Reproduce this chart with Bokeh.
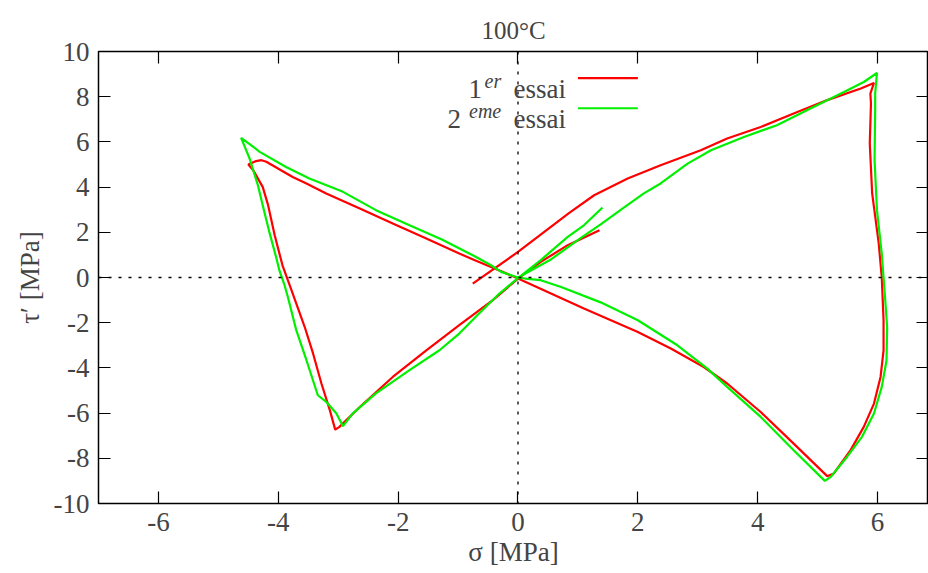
from bokeh.plotting import figure
from bokeh.models import Span, Label, LinearAxis, FixedTicker, Range1d
from bokeh.embed import file_html
from bokeh.resources import INLINE

# ---- data ----
red_x = [-0.755, 0.0, 0.85, 1.27, 1.83, 2.38, 3.05, 3.49, 4.05, 4.6, 5.16, 5.72, 5.94,
         5.88, 5.89, 5.87, 5.91, 6.02, 6.07, 6.1, 6.1, 6.05, 5.94, 5.77, 5.55, 5.27, 5.16,
         4.6, 4.05, 3.49, 3.1, 2.55, 2.0, 1.55, 1.1, 0.55, 0.0, -0.39, -0.73, -0.98, -1.53,
         -2.09, -2.64, -3.2, -3.53, -3.76, -4.2, -4.28, -4.37, -4.5,
         -4.42, -4.26, -4.17, -4.06, -3.93, -3.78, -3.56, -3.42, -3.28, -3.14, -3.05,
         -2.98, -2.64, -2.09, -1.53, -0.98, -0.42, 0.0, 0.38, 0.83, 1.36]
red_y = [-0.27, 1.13, 2.85, 3.64, 4.38, 4.97, 5.63, 6.15, 6.66, 7.26, 7.85, 8.36, 8.61,
         8.14, 7.7, 5.93, 3.72, 1.5, 0.0, -1.89, -3.22, -4.4, -5.58, -6.61, -7.64, -8.67, -8.79,
         -7.35, -5.95, -4.69, -3.96, -3.14, -2.41, -1.89, -1.37, -0.71, -0.04, 0.4, 0.77, 1.06, 1.73,
         2.39, 3.05, 3.72, 4.16, 4.45, 5.12, 5.19, 5.15, 5.0,
         4.75, 4.01, 3.2, 1.87, 0.54, -0.56, -2.18, -3.36, -4.69, -5.87, -6.73,
         -6.61, -5.73, -4.4, -3.22, -2.11, -1.0, -0.05, 0.69, 1.43, 2.09]

green_x = [0.0, 0.55, 1.05, 1.38, 1.72, 2.1, 2.38, 2.83, 3.22, 3.77, 4.32, 4.88, 5.44, 5.77, 5.99,
           5.96, 5.96, 5.95, 5.99, 6.07, 6.12, 6.16, 6.15, 6.07, 5.94, 5.74, 5.49, 5.22, 5.12,
           4.6, 4.05, 3.49, 3.16, 2.66, 2.0, 1.38, 0.72, 0.38, 0.16, 0.0,
           -0.28, -0.45, -0.73, -1.27, -1.81, -2.37, -2.92, -3.48, -3.87, -4.31, -4.45, -4.62,
           -4.48, -4.34, -4.26, -4.15, -4.03, -3.98, -3.9, -3.84, -3.7, -3.53, -3.34, -3.2, -3.03, -2.92,
           -2.76, -2.37, -1.81, -1.31, -0.98, -0.65, -0.31, -0.03, 0.38, 0.83, 1.1, 1.41]
green_y = [0.0, 0.8, 1.75, 2.35, 3.0, 3.72, 4.16, 5.04, 5.63, 6.22, 6.74, 7.48, 8.21, 8.65, 9.05,
           8.14, 7.4, 5.19, 2.98, 1.06, -0.71, -2.18, -3.66, -4.84, -6.02, -7.05, -7.94, -8.82, -9.0,
           -7.64, -6.17, -4.84, -4.03, -3.0, -1.89, -1.1, -0.42, -0.12, -0.06, 0.0,
           0.25, 0.54, 0.95, 1.68, 2.31, 2.98, 3.79, 4.38, 4.89, 5.56, 5.85, 6.18,
           5.27, 4.08, 3.2, 2.02, 0.84, 0.3, -0.3, -0.86, -2.33, -3.66, -5.21, -5.5, -6.02, -6.58,
           -6.02, -5.13, -4.1, -3.22, -2.48, -1.59, -0.71, -0.09, 0.77, 1.8, 2.31, 3.1]

x_ticks = [-6, -4, -2, 0, 2, 4, 6]
x_tick_labels = ["-6", "-4", "-2", "0", "2", "4", "6"]
y_ticks = [-10, -8, -6, -4, -2, 0, 2, 4, 6, 8, 10]
y_tick_labels = ["-10", "-8", "-6", "-4", "-2", "0", "2", "4", "6", "8", "10"]

title_text = "100°C"
x_label = "σ [MPa]"
y_label = "τ′ [MPa]"
series_base = ["1", "2"]
series_sup = ["er", "eme"]
series_word = "essai"
RED = "#ff0000"
GREEN = "#00f000"

FONT = "Liberation Serif"
FS = "27px"

p = figure(width=928, height=570, x_range=Range1d(-7, 6.85), y_range=Range1d(-10, 10),
           output_backend="svg", toolbar_location=None,
           min_border_left=98, min_border_right=0, min_border_top=51, min_border_bottom=67)
p.grid.visible = False
p.outline_line_color = "black"
p.outline_line_width = 1.5
p.background_fill_color = "white"
p.border_fill_color = "white"

p.title.text = title_text
p.title.align = "center"
p.title.text_font = FONT
p.title.text_font_size = "25px"
p.title.text_font_style = "normal"
p.title.offset = 4
p.title.standoff = 16

def style_axis(ax, labels=True):
    ax.major_tick_in = 12
    ax.major_tick_out = 0
    ax.minor_tick_line_color = None
    ax.axis_line_color = None
    ax.major_tick_line_color = "black"
    ax.major_tick_line_width = 1.2
    if labels:
        ax.major_label_text_font = FONT
        ax.major_label_text_font_size = FS
        ax.major_label_standoff = 9
        ax.axis_label_text_font = FONT
        ax.axis_label_text_font_size = FS
        ax.axis_label_text_font_style = "normal"
    else:
        ax.major_label_text_font_size = "1px"
        ax.major_label_text_color = None
        ax.major_label_standoff = 0

p.xaxis.ticker = FixedTicker(ticks=x_ticks)
p.xaxis.major_label_overrides = dict(zip(x_ticks, x_tick_labels))
p.yaxis.ticker = FixedTicker(ticks=y_ticks)
p.yaxis.major_label_overrides = dict(zip(y_ticks, y_tick_labels))
style_axis(p.xaxis[0])
style_axis(p.yaxis[0])
p.xaxis.axis_label = x_label
p.yaxis.axis_label = y_label
p.xaxis.axis_label_standoff = 3
p.yaxis.axis_label_standoff = 6

ax_top = LinearAxis(ticker=FixedTicker(ticks=x_ticks))
style_axis(ax_top, labels=False)
p.add_layout(ax_top, "above")
ax_right = LinearAxis(ticker=FixedTicker(ticks=y_ticks))
style_axis(ax_right, labels=False)
p.add_layout(ax_right, "right")

# zero axes (dotted)
p.add_layout(Span(location=0, dimension="height", line_color="black", line_width=1.3, line_dash="3 7"))
p.add_layout(Span(location=0, dimension="width", line_color="black", line_width=1.3, line_dash="3 7"))

# curves
p.line(red_x, red_y, line_color=RED, line_width=2.2)
p.line(green_x, green_y, line_color=GREEN, line_width=2.2)

# legend (gnuplot style: text then sample line)
leg_rows_y = [8.82, 7.49]
leg_colors = [RED, GREEN]
leg_base_x = [-0.6, -0.95]
for i in range(2):
    yy = leg_rows_y[i]
    p.segment(x0=[1.0], y0=[yy], x1=[2.0], y1=[yy], line_color=leg_colors[i], line_width=2.2)
    p.add_layout(Label(x=0.8, y=yy, text=series_word, text_align="right", text_baseline="alphabetic",
                       text_font=FONT, text_font_size=FS, y_offset=-11))
    p.add_layout(Label(x=-0.28, y=yy, text=series_sup[i], text_align="right", text_baseline="alphabetic",
                       text_font=FONT, text_font_size="20px", text_font_style="italic", y_offset=-3))
    p.add_layout(Label(x=leg_base_x[i], y=yy, text=series_base[i], text_align="right",
                       text_baseline="alphabetic", text_font=FONT, text_font_size=FS, y_offset=-11))

open("out.html", "w").write(file_html(p, INLINE))
